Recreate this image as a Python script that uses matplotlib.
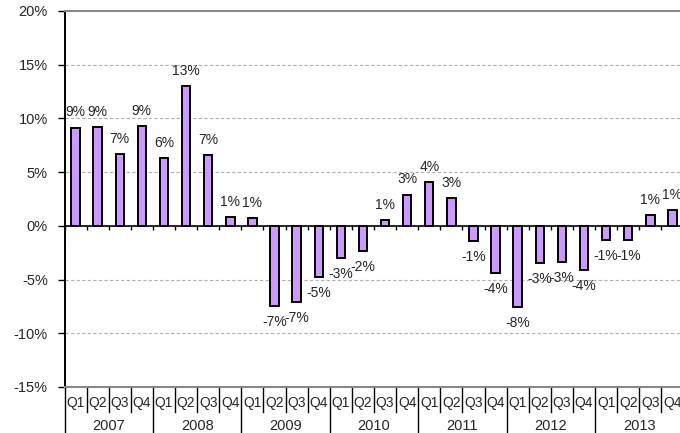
import matplotlib
matplotlib.use("Agg")
import matplotlib.pyplot as plt
from matplotlib.lines import Line2D
import matplotlib.transforms as mtransforms

plt.rcParams['font.family'] = ['Liberation Sans', 'DejaVu Sans']

# Quarterly growth rates, 2007 Q1 .. 2013 Q4 (percent)
years = ['2007', '2008', '2009', '2010', '2011', '2012', '2013']
quarters = ['Q1', 'Q2', 'Q3', 'Q4']
growth = [9.15, 9.2, 6.7, 9.3,
          6.3, 13.0, 6.6, 0.8,
          0.7, -7.45, -7.1, -4.8,
          -3.0, -2.3, 0.55, 2.9,
          4.1, 2.6, -1.45, -4.4,
          -7.55, -3.45, -3.4, -4.1,
          -1.3, -1.3, 1.0, 1.45]
y_ticks = [-15, -10, -5, 0, 5, 10, 15, 20]

W, H = 680, 433
fig = plt.figure(figsize=(W / 100, H / 100), dpi=100)
left_px, right_px, top_px, bottom_px = 64.5, 683.5, 11, 387
ax = fig.add_axes([left_px / W, (H - bottom_px) / H,
                   (right_px - left_px) / W, (bottom_px - top_px) / H])

n = len(growth)
xs = [i + 0.5 for i in range(n)]
text_color = '#262626'

# dashed gridlines
for t in y_ticks:
    if t not in (0, y_ticks[0], y_ticks[-1]):
        ax.axhline(t, color='#b0b0b0', lw=0.8, ls=(0, (3, 2)), zorder=0)

ax.bar(xs, growth, width=0.38, color='#CC99FF', edgecolor='black',
       linewidth=1.4, zorder=3)

for x, v in zip(xs, growth):
    off = 11 if v >= 0 else -11.5
    ax.annotate(f"{v:.0f}%", (x, v), xytext=(0, off), textcoords='offset points',
                ha='center', va='center', fontsize=10, color=text_color,
                annotation_clip=False)

ax.set_xlim(0, n)
ax.set_ylim(y_ticks[0], y_ticks[-1])
ax.set_yticks(y_ticks)
ax.set_yticklabels([f"{t}%" for t in y_ticks])
ax.tick_params(axis='y', direction='out', length=5, width=1, color='black',
               pad=7, labelsize=10.5, labelcolor=text_color)

# category axis sits on the zero line
ax.spines['bottom'].set_position(('data', 0))
ax.spines['bottom'].set_color('black')
ax.spines['bottom'].set_linewidth(1.2)
ax.set_xticks(range(0, n + 1))
ax.set_xticklabels([])
ax.tick_params(axis='x', direction='out', length=3, width=1, color='black')

ax.spines['left'].set_color('black')
ax.spines['left'].set_linewidth(1.4)
ax.spines['top'].set_color('#888888')
ax.spines['top'].set_linewidth(1.5)
ax.spines['right'].set_visible(False)
ax.axhline(y_ticks[0], color='#888888', lw=1.5, clip_on=False, zorder=4)

# two-level category labels below the plot
trans = mtransforms.blended_transform_factory(ax.transData, ax.transAxes)
plot_h = bottom_px - top_px
q_sep = -25 / plot_h
y_sep = -(H - bottom_px + 2) / plot_h
for i in range(n + 1):
    y_end = y_sep if i % 4 == 0 else q_sep
    ax.add_line(Line2D([i, i], [0, y_end], transform=trans, color='black',
                       lw=1.0, clip_on=False))
for i, x in enumerate(xs):
    ax.text(x, -16 / plot_h, quarters[i % 4], transform=trans, ha='center',
            va='center', fontsize=10, color=text_color, clip_on=False)
for j, yr in enumerate(years):
    ax.text(j * 4 + 2, -39.5 / plot_h, yr, transform=trans, ha='center',
            va='center', fontsize=10.5, color=text_color, clip_on=False)

fig.savefig('out.png', dpi=100)
